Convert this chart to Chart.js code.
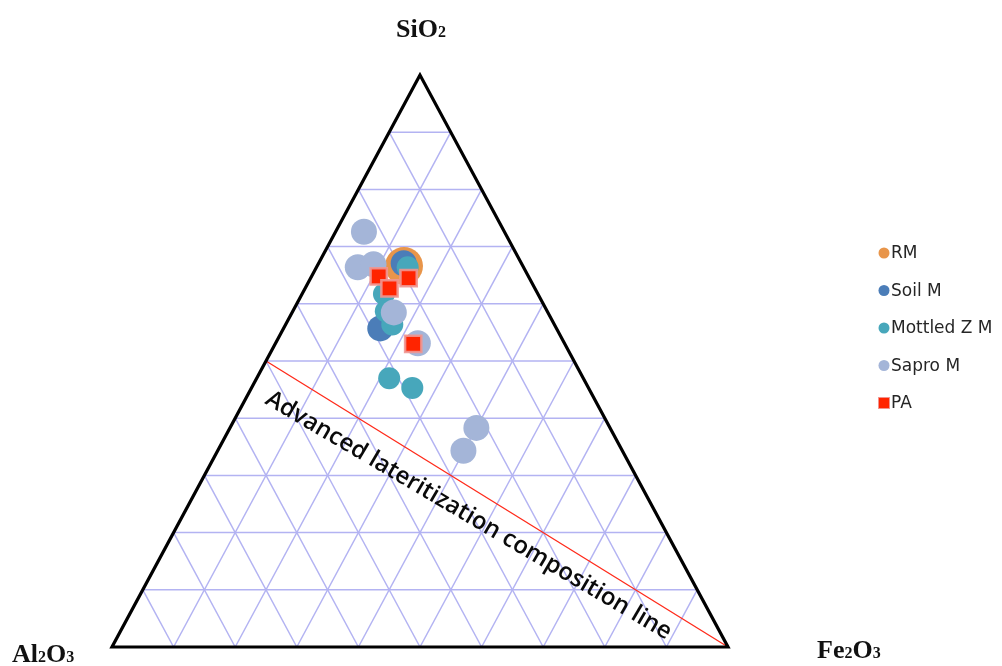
<!DOCTYPE html>
<html lang="en">
<head>
  <meta charset="UTF-8" />
  <title>Ternary SiO2 - Al2O3 - Fe2O3</title>
  <script src="https://cdn.jsdelivr.net/npm/chart.js"></script>
  <style>
    html, body { margin: 0; padding: 0; background: #fff; }
    #wrap { width: 1002px; height: 666px; position: relative; }
  </style>
</head>
<body>
  <div id="wrap"><canvas id="ternary"></canvas></div>
  <script>
    // compositions in %, each point is [SiO2, Al2O3, Fe2O3]
    const seriesNames = ['RM', 'Soil M', 'Mottled Z M', 'Sapro M', 'PA'];
    const rm = [[66.6, 19.3, 14.1]];
    const soilM = [[67.1, 19.1, 13.8], [55.7, 28.6, 15.7]];
    const mottledZM = [[66.4, 18.8, 14.8], [61.7, 25.0, 13.3], [58.7, 26.2, 15.1], [56.4, 26.3, 17.3], [47.0, 31.5, 21.5], [45.3, 28.6, 26.1]];
    const saproM = [[72.6, 22.8, 4.6], [66.4, 26.9, 6.7], [66.9, 24.1, 9.0], [58.5, 25.0, 16.5], [53.1, 23.8, 23.1], [38.3, 21.7, 40.0], [34.3, 25.8, 39.9]];
    const pa = [[64.8, 24.3, 10.9], [62.7, 23.6, 13.7], [64.5, 19.6, 15.9], [53.0, 24.6, 22.4]];
    const gridSteps = [10, 20, 30, 40, 50, 60, 70, 80, 90];
    const laterLine = [[50, 50, 0], [0, 0, 100]];

    // ternary -> cartesian (base 0..1, height 0..1)
    function tern(p) {
      const t = p[0] + p[1] + p[2];
      const s = p[0] / t, f = p[2] / t;
      return { x: f + s / 2, y: s };
    }

    const ternaryPlugin = {
      id: 'ternary',
      beforeDatasetsDraw(chart) {
        const ctx = chart.ctx;
        const xs = chart.scales.x, ys = chart.scales.y;
        const P = (p) => { const c = tern(p); return [xs.getPixelForValue(c.x), ys.getPixelForValue(c.y)]; };
        const seg = (a, b) => { ctx.beginPath(); ctx.moveTo(a[0], a[1]); ctx.lineTo(b[0], b[1]); ctx.stroke(); };

        ctx.save();
        // grid
        ctx.strokeStyle = '#B3B3F2';
        ctx.lineWidth = 1.5;
        gridSteps.forEach(k => {
          seg(P([k, 100 - k, 0]), P([k, 0, 100 - k]));
          seg(P([0, 100 - k, k]), P([100 - k, 0, k]));
          seg(P([0, k, 100 - k]), P([100 - k, k, 0]));
        });

        // red line + its label
        const a = P(laterLine[0]), b = P(laterLine[1]);
        ctx.strokeStyle = '#FF2A1A';
        ctx.lineWidth = 1.3;
        seg(a, b);

        ctx.save();
        ctx.translate(a[0] - 2, a[1] + 42);
        ctx.rotate(30.5 * Math.PI / 180);
        ctx.fillStyle = '#0a0a0a';
        ctx.font = '600 24px "Open Sans"';
        ctx.textBaseline = 'alphabetic';
        ctx.fillText('Advanced lateritization composition line', 0, 0);
        ctx.restore();

        // triangle
        const top = P([100, 0, 0]), left = P([0, 100, 0]), right = P([0, 0, 100]);
        ctx.strokeStyle = '#000';
        ctx.lineWidth = 3.2;
        ctx.lineJoin = 'miter';
        ctx.beginPath();
        ctx.moveTo(top[0], top[1]);
        ctx.lineTo(left[0], left[1]);
        ctx.lineTo(right[0], right[1]);
        ctx.closePath();
        ctx.stroke();
        ctx.restore();
      },
      afterDraw(chart) {
        const ctx = chart.ctx;
        ctx.save();
        // vertex labels
        const formula = (parts, x, y) => {
          let cx = x;
          parts.forEach(([txt, sub]) => {
            ctx.font = sub ? 'bold 16px "Liberation Serif"' : 'bold 26px "Liberation Serif"';
            ctx.fillText(txt, cx, y);
            cx += ctx.measureText(txt).width;
          });
        };
        ctx.fillStyle = '#111';
        ctx.textBaseline = 'alphabetic';
        formula([['SiO', false], ['2', true]], 396, 37);
        formula([['Al', false], ['2', true], ['O', false], ['3', true]], 12, 662);
        formula([['Fe', false], ['2', true], ['O', false], ['3', true]], 817, 658);

        // legend
        chart.data.datasets.forEach((ds, i) => {
          const y = 253 + i * 37.5;
          ctx.fillStyle = ds.backgroundColor;
          if (ds.pointStyle === 'rect') {
            ctx.fillRect(878.5, y - 5.5, 11, 11);
            ctx.strokeStyle = ds.borderColor;
            ctx.lineWidth = 1;
            ctx.strokeRect(878.5, y - 5.5, 11, 11);
          } else {
            ctx.beginPath();
            ctx.arc(884, y, 5.5, 0, Math.PI * 2);
            ctx.fill();
          }
          ctx.fillStyle = '#262626';
          ctx.font = '17px "DejaVu Sans"';
          ctx.textBaseline = 'middle';
          ctx.fillText(ds.label, 891, y + 1);
        });
        ctx.restore();
      }
    };

    const toPts = (arr) => arr.map(tern);

    new Chart(document.getElementById('ternary'), {
      type: 'scatter',
      data: {
        datasets: [
          { label: seriesNames[0], data: toPts(rm), backgroundColor: '#E8954A', borderColor: '#E8954A', borderWidth: 0, pointRadius: 19, order: 5 },
          { label: seriesNames[1], data: toPts(soilM), backgroundColor: '#4B7DB8', borderColor: '#4B7DB8', borderWidth: 0, pointRadius: 13, order: 4 },
          { label: seriesNames[2], data: toPts(mottledZM), backgroundColor: '#47A7BB', borderColor: '#47A7BB', borderWidth: 0, pointRadius: 11, order: 3 },
          { label: seriesNames[3], data: toPts(saproM), backgroundColor: '#A4B5D8', borderColor: '#A4B5D8', borderWidth: 0, pointRadius: 13, order: 2 },
          { label: seriesNames[4], data: toPts(pa), backgroundColor: '#FF2400', borderColor: 'rgba(240,150,145,0.9)', borderWidth: 2.5, pointRadius: 11.5, pointStyle: 'rect', order: 1 }
        ]
      },
      options: {
        responsive: true,
        maintainAspectRatio: false,
        animation: false,
        events: [],
        layout: { padding: { left: 112, right: 274, top: 75, bottom: 17 } },
        scales: {
          x: { type: 'linear', min: 0, max: 1, display: false },
          y: { type: 'linear', min: 0, max: 1, display: false }
        },
        plugins: {
          legend: { display: false },
          tooltip: { enabled: false }
        }
      },
      plugins: [ternaryPlugin]
    });
  </script>
</body>
</html>
